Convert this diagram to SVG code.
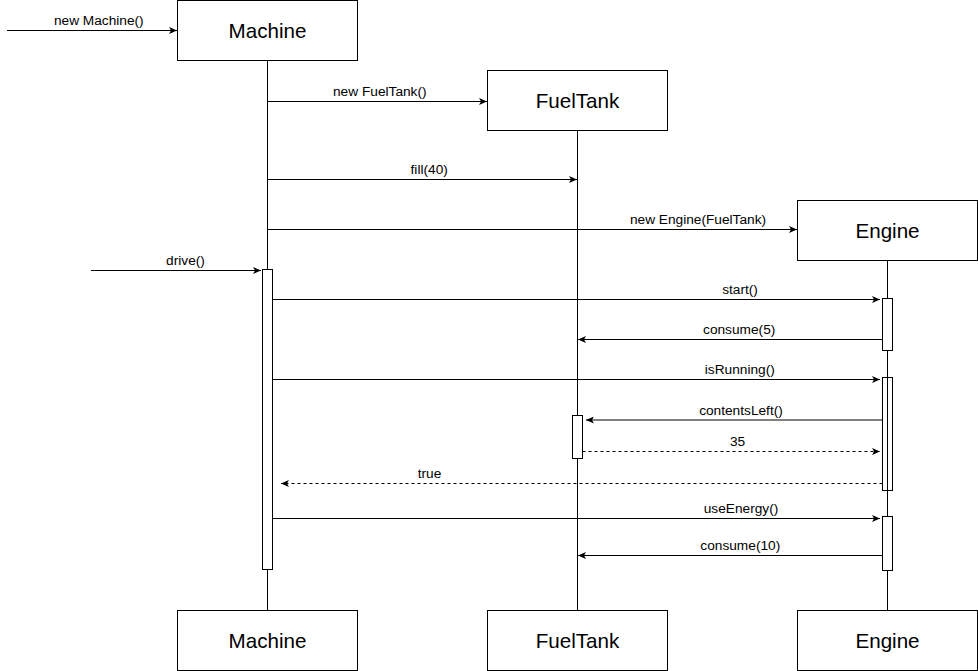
<svg xmlns="http://www.w3.org/2000/svg" width="978" height="671" viewBox="0 0 978 671">
<style>
.box{fill:#fff;stroke:#000;stroke-width:1}
.life{stroke:#000;stroke-width:1;fill:none}
.act{fill:#fff;stroke:#000;stroke-width:1}
.msg{stroke:#000;stroke-width:1;fill:none;marker-end:url(#arr)}
.ret{stroke:#000;stroke-width:1;fill:none;stroke-dasharray:3 3;marker-end:url(#arr)}
.title{font-family:"Liberation Sans",Arial,sans-serif;font-size:20.6px;text-anchor:middle;fill:#000}
.lbl{font-family:"Liberation Sans",Arial,sans-serif;font-size:13.7px;text-anchor:middle;fill:#000}
</style>
<defs>
<marker id="arr" markerUnits="userSpaceOnUse" viewBox="0 0 8 7" refX="8" refY="3.5" markerWidth="8" markerHeight="7" orient="auto">
<path d="M0,0 L8,3.5 L0,7 L2,3.5 Z" fill="#000"/>
</marker>
</defs>
<rect width="978" height="671" fill="#fff"/>
<g id="lifelines">
<line class="life" x1="267.5" y1="60.5" x2="267.5" y2="610.5"/>
<line class="life" x1="577.5" y1="130.5" x2="577.5" y2="610.5"/>
<line class="life" x1="887.5" y1="260.5" x2="887.5" y2="610.5"/>
</g>
<g id="node-machine">
<rect class="box" x="177.5" y="0.5" width="180" height="60"/>
<text class="title" x="267.5" y="38">Machine</text>
</g>
<g id="node-fueltank">
<rect class="box" x="487.5" y="70.5" width="180" height="60"/>
<text class="title" x="577.5" y="108">FuelTank</text>
</g>
<g id="node-engine">
<rect class="box" x="797.5" y="200.5" width="180" height="60"/>
<text class="title" x="887.5" y="238">Engine</text>
</g>
<g id="node-machine-end">
<rect class="box" x="177.5" y="610.5" width="180" height="60"/>
<text class="title" x="267.5" y="648">Machine</text>
</g>
<g id="node-fueltank-end">
<rect class="box" x="487.5" y="610.5" width="180" height="60"/>
<text class="title" x="577.5" y="648">FuelTank</text>
</g>
<g id="node-engine-end">
<rect class="box" x="797.5" y="610.5" width="180" height="60"/>
<text class="title" x="887.5" y="648">Engine</text>
</g>
<g id="activations">
<rect class="act" x="262.5" y="269.5" width="10" height="300"/>
<rect class="act" x="882.5" y="298.5" width="10" height="52"/>
<rect class="act" x="882.5" y="377.5" width="10" height="113" style="fill:none"/>
<rect class="act" x="882.5" y="516.5" width="10" height="54"/>
<rect class="act" x="572.5" y="415.5" width="10" height="43"/>
</g>
<g id="connectors">
<line class="msg" x1="7" y1="30.5" x2="177" y2="30.5"/>
<line class="msg" x1="267.5" y1="101.5" x2="487" y2="101.5"/>
<line class="msg" x1="267.5" y1="179.5" x2="577" y2="179.5"/>
<line class="msg" x1="267.5" y1="229.5" x2="797" y2="229.5"/>
<line class="msg" x1="91" y1="270.5" x2="261" y2="270.5"/>
<line class="msg" x1="272.5" y1="299.5" x2="880" y2="299.5"/>
<line class="msg" x1="882.5" y1="339.5" x2="578" y2="339.5"/>
<line class="msg" x1="272.5" y1="379.5" x2="880" y2="379.5"/>
<line class="msg" x1="882.5" y1="420" x2="586" y2="420"/>
<line class="ret" x1="582.5" y1="451.5" x2="880" y2="451.5"/>
<line class="ret" x1="882.5" y1="483.5" x2="281" y2="483.5"/>
<line class="msg" x1="272.5" y1="518.5" x2="880" y2="518.5"/>
<line class="msg" x1="882.5" y1="555.5" x2="578" y2="555.5"/>
</g>
<g id="labels">
<text class="lbl" x="98.8" y="24.5">new Machine()</text>
<text class="lbl" x="379.8" y="96">new FuelTank()</text>
<text class="lbl" x="429.2" y="174">fill(40)</text>
<text class="lbl" x="698" y="224">new Engine(FuelTank)</text>
<text class="lbl" x="185.5" y="265">drive()</text>
<text class="lbl" x="740" y="294">start()</text>
<text class="lbl" x="739.2" y="334">consume(5)</text>
<text class="lbl" x="739.8" y="374">isRunning()</text>
<text class="lbl" x="741" y="414.5">contentsLeft()</text>
<text class="lbl" x="737.5" y="446">35</text>
<text class="lbl" x="429.5" y="478">true</text>
<text class="lbl" x="741" y="513">useEnergy()</text>
<text class="lbl" x="740.3" y="550">consume(10)</text>
</g>
</svg>
